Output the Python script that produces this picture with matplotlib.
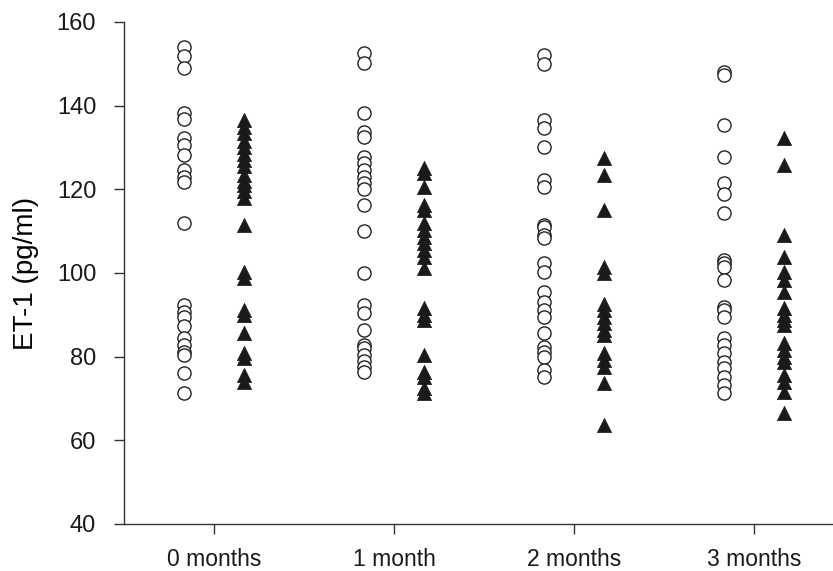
import matplotlib.pyplot as plt
import numpy as np

plt.rcParams['font.family'] = ['Liberation Sans', 'DejaVu Sans']

## ET-1 VALUES PER VISIT (open circles / filled triangles)
months = ['0 months', '1 month', '2 months', '3 months']

circles = [
    [154.1, 151.9, 149.1, 138.3, 136.7, 132.2, 130.6, 128.2, 124.6, 123.0, 121.8,
     112.0, 92.3, 90.7, 89.5, 87.3, 84.4, 82.8, 81.2, 80.4, 76.2, 71.4],
    [152.5, 150.1, 138.2, 133.8, 132.6, 127.8, 126.2, 124.6, 123.0, 121.4, 120.0,
     116.3, 110.0, 100.1, 92.3, 90.4, 86.4, 82.8, 82.0, 80.4, 79.0, 77.6, 76.4],
    [152.1, 149.9, 136.6, 134.6, 130.2, 122.2, 120.6, 111.5, 111.0, 109.1, 108.3,
     102.3, 100.3, 95.5, 93.1, 91.1, 89.5, 85.6, 82.4, 81.2, 80.0, 76.8, 75.2],
    [148.1, 147.3, 135.4, 127.8, 121.4, 119.0, 114.3, 103.1, 102.3, 101.5, 98.3,
     91.9, 91.1, 89.5, 84.4, 82.8, 80.8, 78.8, 77.2, 75.2, 73.2, 71.2],
]

triangles = [
    [136.5, 135.0, 133.5, 131.5, 130.0, 128.5, 127.0, 125.5, 123.5, 122.0, 121.0,
     119.5, 118.0, 111.5, 100.3, 98.7, 91.2, 90.0, 85.6, 80.8, 79.6, 75.6, 74.0],
    [125.1, 123.9, 120.6, 116.3, 115.0, 111.9, 110.3, 108.7, 107.1, 105.5, 103.9,
     101.1, 91.6, 90.0, 88.8, 80.4, 76.4, 75.2, 72.4, 71.2],
    [127.4, 123.4, 115.1, 101.5, 99.9, 92.7, 91.1, 89.5, 88.0, 86.4, 85.2, 80.8,
     79.2, 77.6, 73.6, 63.7],
    [132.2, 125.8, 109.1, 103.9, 100.3, 98.3, 95.5, 91.6, 90.0, 88.8, 87.6, 83.2,
     81.6, 80.0, 78.8, 75.6, 74.0, 71.6, 66.5],
]

fig = plt.figure(figsize=(8.33, 5.71), dpi=100)
ax = fig.add_axes([124/833, 47/571, 720/833, 502/571])

offset = 1/6
for i in range(len(months)):
    ax.scatter(np.full(len(circles[i]), i - offset), circles[i], s=90,
               marker='o', facecolors='white', edgecolors='#222222',
               linewidths=1.0, zorder=3)
    ax.scatter(np.full(len(triangles[i]), i + offset), triangles[i], s=105,
               marker='^', color='#1a1a1a', edgecolors='#1a1a1a',
               linewidths=0.5, zorder=3)

ax.set_xlim(-0.5, 3.5)
ax.set_ylim(40, 160)
ax.set_yticks(np.arange(40, 161, 20))
ax.set_xticks(range(len(months)))
ax.set_xticklabels(months)
ax.set_ylabel('ET-1 (pg/ml)', fontsize=20, labelpad=13)

ax.spines['top'].set_visible(False)
ax.spines['right'].set_visible(False)
for s in ['left', 'bottom']:
    ax.spines[s].set_color('#333333')
    ax.spines[s].set_linewidth(1.0)
ax.tick_params(axis='both', direction='out', length=7, width=1.0,
               color='#333333', labelsize=17, labelcolor='#1a1a1a')
ax.tick_params(axis='y', pad=13)
ax.tick_params(axis='x', pad=10, labelsize=16.5)

plt.savefig('out.png', dpi=100)
